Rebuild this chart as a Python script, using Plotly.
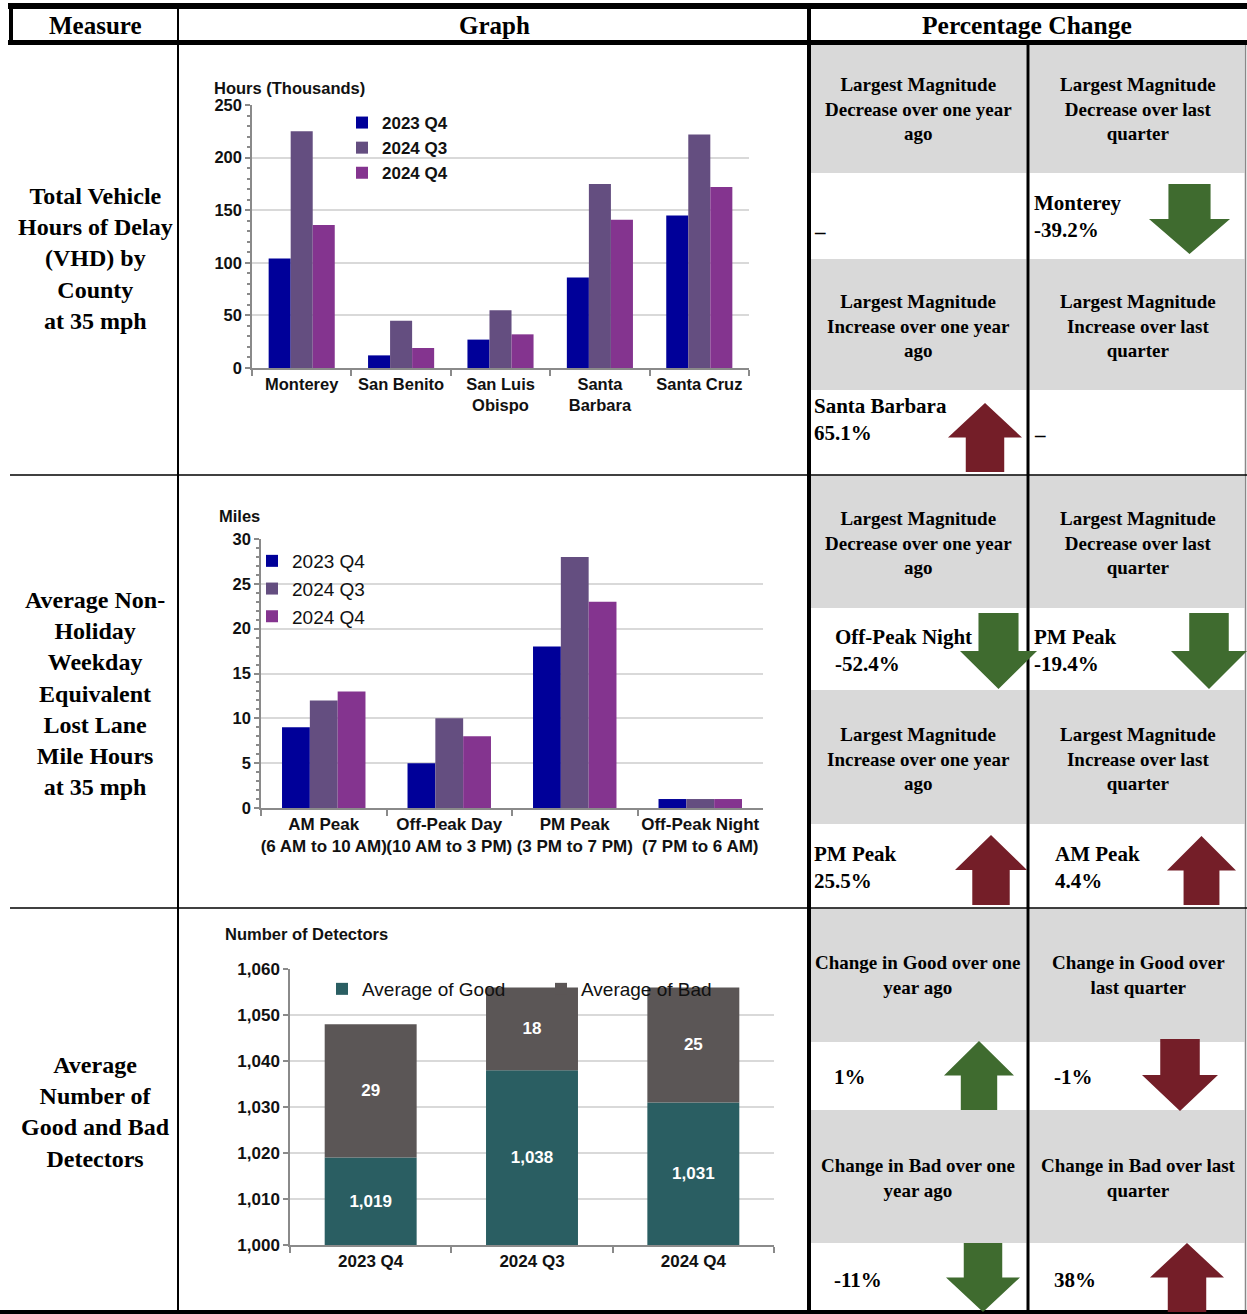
import plotly.graph_objects as go

W, H = 1247, 1314

# ---------------- data ----------------
series_names = ["2023 Q4", "2024 Q3", "2024 Q4"]

counties = ["Monterey", "San Benito", "San Luis<br>Obispo", "Santa<br>Barbara", "Santa Cruz"]
vhd_2023q4 = [104, 12, 27, 86, 145]
vhd_2024q3 = [225, 45, 55, 175, 222]
vhd_2024q4 = [136, 19, 32, 141, 172]

periods = ["AM Peak<br>(6 AM to 10 AM)", "Off-Peak Day<br>(10 AM to 3 PM)",
           "PM Peak<br>(3 PM to 7 PM)", "Off-Peak Night<br>(7 PM to 6 AM)"]
llmh_2023q4 = [9, 5, 18, 1]
llmh_2024q3 = [12, 10, 28, 1]
llmh_2024q4 = [13, 8, 23, 1]

quarters = ["2023 Q4", "2024 Q3", "2024 Q4"]
good_detectors = [1019, 1038, 1031]
bad_detectors = [29, 18, 25]
DET_MIN, DET_MAX = 1000, 1060

header_labels = ["Measure", "Graph", "Percentage Change"]
measures = ["Total Vehicle<br>Hours of Delay<br>(VHD) by<br>County<br>at 35 mph",
            "Average Non-<br>Holiday<br>Weekday<br>Equivalent<br>Lost Lane<br>Mile Hours<br>at 35 mph",
            "Average<br>Number of<br>Good and Bad<br>Detectors"]

# ---------------- styling ----------------
SANS = "Liberation Sans, Arial, sans-serif"
SERIF = "Liberation Serif, Times New Roman, serif"
AX = "#8A8A8A"
GRID = "#D9D9D9"
GRAY_CELL = "#D9D9D9"
GREEN = "#3F6B2F"
RED = "#741E28"
bar_colors = ["#000099", "#644E80", "#84348F"]


def X(px):
    return px / W


def Y(py):
    return 1 - py / H


def dom_x(a, b):
    return [a / W, b / W]


def dom_y(top, bottom):
    return [1 - bottom / H, 1 - top / H]


fig = go.Figure()

# Chart 1
for name, vals, c in zip(series_names, [vhd_2023q4, vhd_2024q3, vhd_2024q4], bar_colors):
    fig.add_trace(go.Bar(x=counties, y=vals, name=name, marker=dict(color=c, line=dict(width=0)),
                         xaxis="x", yaxis="y", legend="legend"))
# Chart 2
for name, vals, c in zip(series_names, [llmh_2023q4, llmh_2024q3, llmh_2024q4], bar_colors):
    fig.add_trace(go.Bar(x=periods, y=vals, name=name, marker=dict(color=c, line=dict(width=0)),
                         xaxis="x2", yaxis="y2", legend="legend2"))
# Chart 3 (stacked via explicit base)
fig.add_trace(go.Bar(x=quarters, y=[g - DET_MIN for g in good_detectors], base=DET_MIN,
                     name="Average of Good", marker=dict(color="#2A5E62", line=dict(width=0)),
                     width=0.57, offset=-0.285,
                     text=[f"{g:,}" for g in good_detectors], textposition="inside",
                     insidetextanchor="middle", textangle=0,
                     textfont=dict(family=SANS, size=17, color="white", weight="bold"),
                     xaxis="x3", yaxis="y3", legend="legend3"))
fig.add_trace(go.Bar(x=quarters, y=bad_detectors, base=good_detectors,
                     name="Average of Bad", marker=dict(color="#5B5656", line=dict(width=0)),
                     width=0.57, offset=-0.285,
                     text=[str(b) for b in bad_detectors], textposition="inside",
                     insidetextanchor="middle", textangle=0,
                     textfont=dict(family=SANS, size=17, color="white", weight="bold"),
                     xaxis="x3", yaxis="y3", legend="legend3"))


def xax(domain, anchor, size):
    return dict(domain=domain, anchor=anchor, type="category", showline=True, linecolor=AX,
                linewidth=1.5, ticks="outside", tickson="boundaries", ticklen=6, tickcolor=AX,
                tickwidth=1.5, showgrid=False, fixedrange=True, tickangle=0, automargin=False,
                tickfont=dict(family=SANS, size=size, color="#111", weight="bold"))


def yax(domain, anchor, rng, dtick, minor_dtick=None, fmt=None, size=15):
    d = dict(domain=domain, anchor=anchor, range=rng, dtick=dtick, showline=True, linecolor=AX,
             linewidth=1.5, ticks="outside", ticklen=5, tickcolor=AX, tickwidth=1.5,
             showgrid=True, gridcolor=GRID, gridwidth=1.5, zeroline=False, fixedrange=True,
             automargin=False,
             tickfont=dict(family=SANS, size=size, color="#111", weight="bold"))
    if minor_dtick:
        d["minor"] = dict(dtick=minor_dtick, ticks="outside", ticklen=3, tickcolor=AX, showgrid=False)
    if fmt:
        d["tickformat"] = fmt
    return d


# ---------------- table structure ----------------
shapes = []


def rect(x0, y0, x1, y1, color, layer="above"):
    shapes.append(dict(type="rect", xref="paper", yref="paper", x0=X(x0), y0=Y(y0), x1=X(x1), y1=Y(y1),
                       fillcolor=color, line=dict(width=0), layer=layer))


def line(x0, y0, x1, y1, w, color="black"):
    shapes.append(dict(type="line", xref="paper", yref="paper", x0=X(x0), y0=Y(y0), x1=X(x1), y1=Y(y1),
                       line=dict(color=color, width=w)))


# gray header cells of percentage-change column
for top, bottom in [(45, 173), (259, 390), (475.5, 608), (690, 824), (908.5, 1042), (1110, 1243)]:
    rect(811, top, 1026.5, bottom, GRAY_CELL, layer="below")
    rect(1029.5, top, 1244.5, bottom, GRAY_CELL, layer="below")

rect(8, 3, 1247, 9, "black")          # top band
rect(8, 40, 1247, 45, "black")        # header bottom band
rect(9, 3, 13, 45, "black")           # header left border
line(178, 3, 178, 1311, 2)            # measure/graph divider
rect(807, 3, 811, 1311, "black")      # graph/pct divider
rect(1026.5, 45, 1029.5, 1311, "black")
line(1245.5, 45, 1245.5, 1311, 1.5, "#888888")
line(10, 475, 1247, 475, 1.5)
line(10, 908, 1247, 908, 1.5)
rect(0, 1310, 1247, 1314, "black")    # bottom band


def arrow(direction, color, x0, x1, top, bottom, shaft=0.52, head=0.5):
    cx = (x0 + x1) / 2
    sw = (x1 - x0) * shaft / 2
    hh = (bottom - top) * head
    if direction == "down":
        ht = bottom - hh
        pts = [(cx - sw, top), (cx + sw, top), (cx + sw, ht), (x1, ht), (cx, bottom), (x0, ht), (cx - sw, ht)]
    else:
        hb = top + hh
        pts = [(cx, top), (x1, hb), (cx + sw, hb), (cx + sw, bottom), (cx - sw, bottom), (cx - sw, hb), (x0, hb)]
    path = "M " + " L ".join(f"{X(px):.5f},{Y(py):.5f}" for px, py in pts) + " Z"
    shapes.append(dict(type="path", xref="paper", yref="paper", path=path, fillcolor=color,
                       line=dict(width=0), layer="above"))


arrows = [
    ("down", GREEN, 1149, 1230, 184, 254),
    ("up", RED, 948, 1022, 403, 472),
    ("down", GREEN, 960, 1037, 613, 689),
    ("down", GREEN, 1171, 1247, 613, 689),
    ("up", RED, 955, 1027, 835, 905),
    ("up", RED, 1167, 1236, 836, 905),
    ("up", GREEN, 944, 1014, 1041, 1110),
    ("down", RED, 1142, 1218, 1039, 1111),
    ("down", GREEN, 946, 1020, 1243, 1312),
    ("up", RED, 1150, 1224, 1243, 1312),
]
for a in arrows:
    arrow(*a)

# ---------------- text ----------------
annotations = []


def txt(x, y, text, size, family=SERIF, bold=True, xanchor="center", align="center", color="black"):
    annotations.append(dict(xref="paper", yref="paper", x=X(x), y=Y(y), text=text, showarrow=False,
                            xanchor=xanchor, yanchor="middle", align=align,
                            font=dict(family=family, size=size, color=color,
                                      weight="bold" if bold else "normal")))


# header
txt(95, 25, header_labels[0], 25)
txt(494, 25, header_labels[1], 25)
txt(1027, 25, header_labels[2], 25.5)

# measures
txt(95, 258.5, measures[0], 24)
txt(95, 693, measures[1], 24)
txt(95, 1112, measures[2], 24)

# pct header cells
cells = [
    (918, 109, "Largest Magnitude<br>Decrease over one year<br>ago"),
    (1138, 109, "Largest Magnitude<br>Decrease over last<br>quarter"),
    (918, 326, "Largest Magnitude<br>Increase over one year<br>ago"),
    (1138, 326, "Largest Magnitude<br>Increase over last<br>quarter"),
    (918, 543, "Largest Magnitude<br>Decrease over one year<br>ago"),
    (1138, 543, "Largest Magnitude<br>Decrease over last<br>quarter"),
    (918, 759, "Largest Magnitude<br>Increase over one year<br>ago"),
    (1138, 759, "Largest Magnitude<br>Increase over last<br>quarter"),
    (918, 975.5, "Change in Good over one<br>year ago"),
    (1138, 975.5, "Change in Good over<br>last quarter"),
    (918, 1177.5, "Change in Bad over one<br>year ago"),
    (1138, 1177.5, "Change in Bad over last<br>quarter"),
]
for x, y, t in cells:
    txt(x, y, t, 19)

values = [
    (812, 232, "–"),
    (1032, 216, "Monterey<br>-39.2%"),
    (812, 419, "Santa Barbara<br>65.1%"),
    (1032, 435, "–"),
    (833, 650, "Off-Peak Night<br>-52.4%"),
    (1032, 650, "PM Peak<br>-19.4%"),
    (812, 867, "PM Peak<br>25.5%"),
    (1053, 867, "AM Peak<br>4.4%"),
    (832, 1077, "1%"),
    (1052, 1077, "-1%"),
    (832, 1280, "-11%"),
    (1052, 1280, "38%"),
]
for x, y, t in values:
    txt(x, y, t, 21, xanchor="left", align="left")

# chart titles
txt(212, 88, "Hours (Thousands)", 16.5, family=SANS, xanchor="left", align="left", color="#111")
txt(217, 516, "Miles", 16.5, family=SANS, xanchor="left", align="left", color="#111")
txt(223, 934, "Number of Detectors", 16.5, family=SANS, xanchor="left", align="left", color="#111")

fig.update_layout(
    width=W, height=H, margin=dict(l=0, r=0, t=0, b=0, pad=0, autoexpand=False),
    paper_bgcolor="white", plot_bgcolor="rgba(0,0,0,0)",
    barmode="group", bargap=0.335, bargroupgap=0,
    xaxis=xax(dom_x(252, 749), "y", 16.5),
    yaxis=yax(dom_y(105, 368), "x", [0, 250], 50, 10, size=16.5),
    xaxis2=xax(dom_x(261, 763), "y2", 17),
    yaxis2=yax(dom_y(539, 808), "x2", [0, 30], 5, 1, size=16.5),
    xaxis3=xax(dom_x(290, 774), "y3", 17),
    yaxis3=yax(dom_y(969, 1245), "x3", [DET_MIN, DET_MAX], 10, None, ",", 17),
    legend=dict(x=X(342), y=Y(105), xanchor="left", yanchor="top", bgcolor="rgba(0,0,0,0)",
                font=dict(family=SANS, size=17, color="#111", weight="bold"), tracegroupgap=0),
    legend2=dict(x=X(252), y=Y(542), xanchor="left", yanchor="top", bgcolor="rgba(0,0,0,0)",
                 font=dict(family=SANS, size=19, color="#111")),
    legend3=dict(x=X(322), y=Y(970), xanchor="left", yanchor="top", orientation="h",
                 bgcolor="rgba(0,0,0,0)", entrywidth=174, entrywidthmode="pixels",
                 font=dict(family=SANS, size=19, color="#111")),
    shapes=shapes,
    annotations=annotations,
    showlegend=True,
)

POST = ("document.documentElement.style.margin='0';document.body.style.margin='0';"
        "document.body.style.overflow='hidden';"
        "var d=document.querySelector('.plotly-graph-div');"
        "d.style.position='fixed';d.style.top='0px';d.style.left='0px';")

fig.write_html("out.html", config={"displayModeBar": False}, post_script=POST)
